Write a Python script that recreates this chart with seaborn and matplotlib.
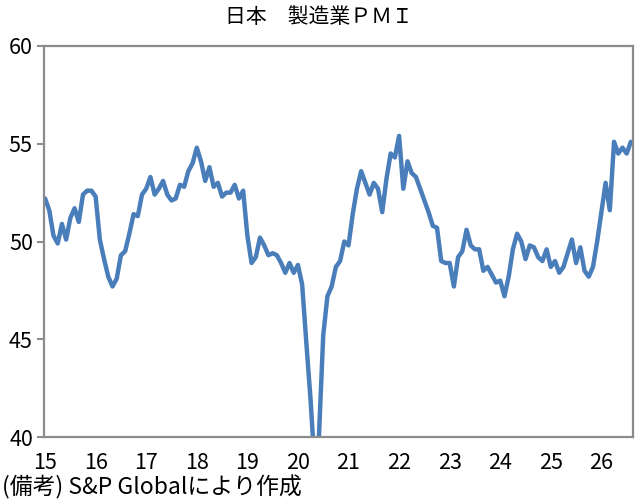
import matplotlib
matplotlib.use("Agg")
import matplotlib.pyplot as plt
import seaborn as sns
import pandas as pd
import numpy as np

# Japan manufacturing PMI, monthly, Jan 2015 - Aug 2026
pmi_2015 = [52.2, 51.6, 50.3, 49.9, 50.9, 50.1, 51.2, 51.7, 51.0, 52.4, 52.6, 52.6]
pmi_2016 = [52.3, 50.1, 49.1, 48.2, 47.7, 48.1, 49.3, 49.5, 50.4, 51.4, 51.3, 52.4]
pmi_2017 = [52.7, 53.3, 52.4, 52.7, 53.1, 52.4, 52.1, 52.2, 52.9, 52.8, 53.6, 54.0]
pmi_2018 = [54.8, 54.1, 53.1, 53.8, 52.8, 53.0, 52.3, 52.5, 52.5, 52.9, 52.2, 52.6]
pmi_2019 = [50.3, 48.9, 49.2, 50.2, 49.8, 49.3, 49.4, 49.3, 48.9, 48.4, 48.9, 48.4]
pmi_2020 = [48.8, 47.8, 44.8, 41.9, 38.4, 40.1, 45.2, 47.2, 47.7, 48.7, 49.0, 50.0]
pmi_2021 = [49.8, 51.4, 52.7, 53.6, 53.0, 52.4, 53.0, 52.7, 51.5, 53.2, 54.5, 54.3]
pmi_2022 = [55.4, 52.7, 54.1, 53.5, 53.3, 52.7, 52.1, 51.5, 50.8, 50.7, 49.0, 48.9]
pmi_2023 = [48.9, 47.7, 49.2, 49.5, 50.6, 49.8, 49.6, 49.6, 48.5, 48.7, 48.3, 47.9]
pmi_2024 = [48.0, 47.2, 48.2, 49.6, 50.4, 50.0, 49.1, 49.8, 49.7, 49.2, 49.0, 49.6]
pmi_2025 = [48.7, 49.0, 48.4, 48.7, 49.4, 50.1, 48.9, 49.7, 48.5, 48.2, 48.7, 50.0]
pmi_2026 = [51.5, 53.0, 51.6, 55.1, 54.5, 54.8, 54.5, 55.1]

year_labels = ["15", "16", "17", "18", "19", "20", "21", "22", "23", "24", "25", "26"]
title = "日本　製造業ＰＭＩ"
note = "(備考) S&P Globalにより作成"

values = (pmi_2015 + pmi_2016 + pmi_2017 + pmi_2018 + pmi_2019 + pmi_2020 +
          pmi_2021 + pmi_2022 + pmi_2023 + pmi_2024 + pmi_2025 + pmi_2026)
df = pd.DataFrame({"month": np.arange(len(values)), "pmi": values})

sns.set_theme(style="white")
plt.rcParams["font.family"] = ["Noto Sans CJK JP", "DejaVu Sans"]

fig = plt.figure(figsize=(6.38, 5.01), dpi=100)
ax = fig.add_axes([44 / 638, 1 - 437 / 501, (633 - 44) / 638, (437 - 46) / 501])

sns.lineplot(data=df, x="month", y="pmi", ax=ax, color="#4a7ebb", linewidth=3.2)

ax.set_ylim(40, 60)
ax.set_yticks([40, 45, 50, 55, 60])
ax.set_xlim(-0.25, 139.5)
ax.set_xticks(np.arange(len(year_labels)) * 12)
ax.set_xticklabels(year_labels)
ax.set_xlabel("")
ax.set_ylabel("")

for s in ax.spines.values():
    s.set_color("#8c8c8c")
    s.set_linewidth(1.6)
    s.set_visible(True)

ax.tick_params(axis="y", which="major", direction="out", length=5, width=1.5,
               color="#8c8c8c", labelsize=15.5, pad=3, labelcolor="black", left=True)
ax.tick_params(axis="x", which="major", length=0, labelsize=15.5, pad=11, labelcolor="black", bottom=True)

fig.text(0.5, 1 - 17 / 501, title, ha="center", va="center", fontsize=15, color="black")
fig.text(2 / 638, 1 - 487 / 501, note, ha="left", va="center", fontsize=16.5, color="black")

fig.savefig("out.png", dpi=100)
